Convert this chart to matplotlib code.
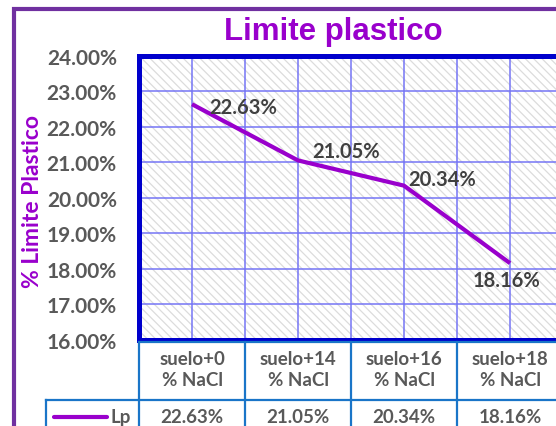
import matplotlib
matplotlib.use("Agg")
import matplotlib.pyplot as plt
from matplotlib.patches import Rectangle
from matplotlib.lines import Line2D
from matplotlib.transforms import blended_transform_factory

# data
categories = ["suelo+0\n% NaCl", "suelo+14\n% NaCl", "suelo+16\n% NaCl", "suelo+18\n% NaCl"]
lp_values = [22.63, 21.05, 20.34, 18.16]
series_name = "Lp"
y_ticks = [16, 17, 18, 19, 20, 21, 22, 23, 24]

W, H = 556, 427
PURPLE = "#9900CC"
FRAME = "#7030A0"
AXBLUE = "#0000CC"
GRID = "#7575F5"
TABLE = "#1A75C8"
GRAY = "#595959"
DARK = "#404040"
FONT = ["Lato", "DejaVu Sans"]

plt.rcParams["font.family"] = FONT
plt.rcParams["hatch.linewidth"] = 0.9

fig = plt.figure(figsize=(W / 100, H / 100), dpi=100)


def fy(py):
    return 1 - py / H


def fx(px):
    return px / W


# outer chart frame
fig.patches.append(Rectangle((fx(14), fy(10) - 1.5), 1.5, 1.5, transform=fig.transFigure,
                             fill=False, edgecolor=FRAME, linewidth=3.0, zorder=0))

ax_left, ax_right, ax_top, ax_bottom = 139, 563, 56.5, 341
ax = fig.add_axes([fx(ax_left), fy(ax_bottom), (ax_right - ax_left) / W, (ax_bottom - ax_top) / H])

x = list(range(len(categories)))
ax.set_xlim(-0.5, len(categories) - 0.5)
ax.set_ylim(y_ticks[0], y_ticks[-1])

# hatched plot background
ax.add_patch(Rectangle((0, 0), 1, 1, transform=ax.transAxes, facecolor="white",
                       edgecolor="#DCDCDC", hatch="\\\\\\\\", linewidth=0, zorder=0))

# gridlines
for yv in y_ticks:
    ax.axhline(yv, color=GRID, lw=1.1, zorder=1)
for k in range(2 * len(categories) + 1):
    ax.axvline(-0.5 + 0.5 * k, color=GRID, lw=1.1, zorder=1)

ax.plot(x, lp_values, color=PURPLE, lw=3.0, zorder=3, solid_capstyle="butt")

offsets = [(51, -3), (48, 9.5), (38.5, 7), (-3.5, -17)]
for xi, v, off in zip(x, lp_values, offsets):
    ax.annotate(f"{v:.2f}%", (xi, v), xytext=off, textcoords="offset pixels",
                ha="center", va="center", fontsize=14.5, fontweight="bold", color=DARK, zorder=4)

ax.set_yticks(y_ticks)
ax.set_yticklabels([f"{t:.2f}%" for t in y_ticks], fontsize=15, fontweight="bold", color=GRAY)
ax.tick_params(axis="y", length=0, pad=16)
ax.set_xticks([])
for s in ax.spines.values():
    s.set_color(AXBLUE)
    s.set_linewidth(3.6)

# title and axis label
fig.text(fx(333), fy(32), "Limite plastico", ha="center", va="center", fontsize=22.5,
         fontweight="bold", color=PURPLE, family=["Liberation Sans", "DejaVu Sans"])
fig.text(fx(33), fy(201), "% Limite Plastico", ha="center", va="center", rotation=90,
         fontsize=16.5, fontweight="bold", color=PURPLE)

# data table beneath the axis
tr = blended_transform_factory(ax.transData, fig.transFigure)
n = len(categories)
row1_top, row2_top, row_bottom = 343, 401, 440
fig.lines.append(Line2D([-0.5, n - 0.5], [fy(row1_top)] * 2, transform=tr, color=TABLE, lw=1.6))
fig.lines.append(Line2D([fx(46), 1.1], [fy(row2_top)] * 2, transform=fig.transFigure, color=TABLE, lw=1.6))
for k in range(n + 1):
    fig.lines.append(Line2D([-0.5 + k] * 2, [fy(row1_top), fy(row_bottom)], transform=tr,
                            color=TABLE, lw=1.6))
fig.lines.append(Line2D([fx(46)] * 2, [fy(row2_top), fy(row_bottom)], transform=fig.transFigure,
                        color=TABLE, lw=1.6))

for xi, cat, v in zip(x, categories, lp_values):
    fig.text(xi, fy(370), cat, transform=tr, ha="center", va="center", fontsize=13.5,
             fontweight="bold", color=GRAY, linespacing=1.35)
    fig.text(xi, fy(418), f"{v:.2f}%", transform=tr, ha="center", va="center", fontsize=13.5,
             fontweight="bold", color=GRAY)

# legend key in the table
fig.lines.append(Line2D([fx(54), fx(107)], [fy(418)] * 2, transform=fig.transFigure,
                        color=PURPLE, lw=3.0, solid_capstyle="round"))
fig.text(fx(111), fy(418), series_name, ha="left", va="center", fontsize=13.5,
         fontweight="bold", color=GRAY)

fig.savefig("out.png", dpi=100)
